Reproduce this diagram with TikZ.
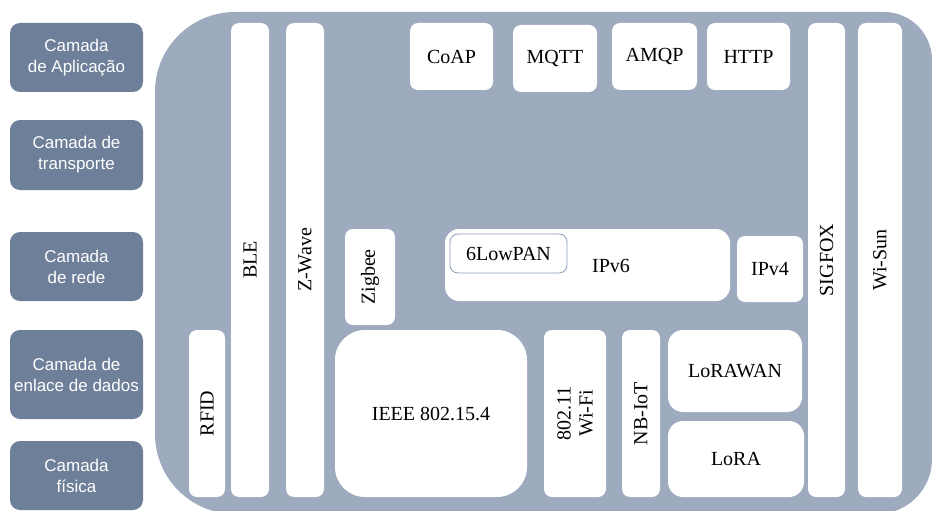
\documentclass[tikz,border=0pt]{standalone}
\usepackage{fontspec}
\setmainfont{Liberation Serif}
\setsansfont{Liberation Sans}
\usetikzlibrary{positioning}
\definecolor{stackbg}{RGB}{158,170,190}
\definecolor{layerdark}{RGB}{110,127,153}
\definecolor{lowpanline}{RGB}{140,158,186}

\begin{document}
\begin{tikzpicture}[
    x=1pt, y=-1pt,
    layer/.style={fill=layerdark, rounded corners=10pt, text=white, align=center, inner sep=0pt, outer sep=0pt, minimum width=133pt, font=\sffamily\fontsize{17}{21}\selectfont},
    proto/.style={fill=white, rounded corners=8pt, align=center, inner sep=0pt, outer sep=0pt, font=\fontsize{20}{22}\selectfont},
    vproto/.style={proto, rotate=90}
  ]
    \useasboundingbox (0,0) rectangle (932,511);
    % fundo da pilha
    \fill[stackbg] (155,92) arc[start angle=180, end angle=270, radius=80] -- (884,12)
      arc[start angle=270, end angle=360, radius=48] -- (932,459)
      arc[start angle=0, end angle=90, radius=55] -- (235,514)
      arc[start angle=90, end angle=180, radius=80] -- cycle;
    % camadas
    \node[layer, minimum height=69pt] (app) at (76.5,57.5) {Camada\\de Aplicação};
    \node[layer, minimum height=70pt] (transp) at (76.5,155) {Camada de\\transporte};
    \node[layer, minimum height=69pt] (rede) at (76.5,266.5) {Camada\\de rede};
    \node[layer, minimum height=89pt] (enlace) at (76.5,374.5) {Camada de\\enlace de dados};
    \node[layer, minimum height=69pt] (fisica) at (76.5,475.5) {Camada\\física};
    % protocolos verticais
    \node[vproto, minimum width=474pt, minimum height=38pt] (ble) at (250,260) {BLE};
    \node[vproto, minimum width=474pt, minimum height=38pt] (zwave) at (305,260) {Z-Wave};
    \node[vproto, minimum width=167pt, minimum height=36pt] (rfid) at (207,413.5) {RFID};
    \node[vproto, minimum width=96pt, minimum height=50pt] (zigbee) at (370,277) {Zigbee};
    \node[vproto, minimum width=474pt, minimum height=37pt] (sigfox) at (826.5,260) {SIGFOX};
    \node[vproto, minimum width=474pt, minimum height=44pt] (wisun) at (880,260) {Wi-Sun};
    \node[vproto, minimum width=167pt, minimum height=62pt] (wifi) at (575,413.5) {802.11\\Wi-Fi};
    \node[vproto, minimum width=167pt, minimum height=38pt] (nbiot) at (641,413.5) {NB-IoT};
    % aplicacao
    \node[proto, minimum width=83pt, minimum height=67pt] (coap) at (451.5,56.5) {CoAP};
    \node[proto, minimum width=84pt, minimum height=67pt] (mqtt) at (555,58.5) {MQTT};
    \node[proto, minimum width=85pt, minimum height=67pt] (amqp) at (654.5,56.5) {AMQP};
    \node[proto, minimum width=83pt, minimum height=67pt] (http) at (748.5,56.5) {HTTP};
    % rede
    \node[proto, rounded corners=14pt, minimum width=285pt, minimum height=72pt] (ipv6) at (587.5,265) {};
    \node[font=\fontsize{20}{22}\selectfont, inner sep=0pt] (ipv6txt) at (611,266) {IPv6};
    \node[proto, draw=lowpanline, line width=0.8pt, minimum width=117pt, minimum height=39pt] (lowpan) at (508.5,253.5) {6LowPAN};
    \node[proto, minimum width=66pt, minimum height=66pt] (ipv4) at (770,269) {IPv4};
    % enlace / fisica
    \node[proto, rounded corners=30pt, minimum width=192pt, minimum height=167pt] (ieee) at (431,413.5) {IEEE 802.15.4};
    \node[proto, rounded corners=15pt, minimum width=134pt, minimum height=82pt] (lorawan) at (735,371) {LoRAWAN};
    \node[proto, rounded corners=15pt, minimum width=136pt, minimum height=76pt] (lora) at (736,459) {LoRA};
  \end{tikzpicture}
\end{document}
